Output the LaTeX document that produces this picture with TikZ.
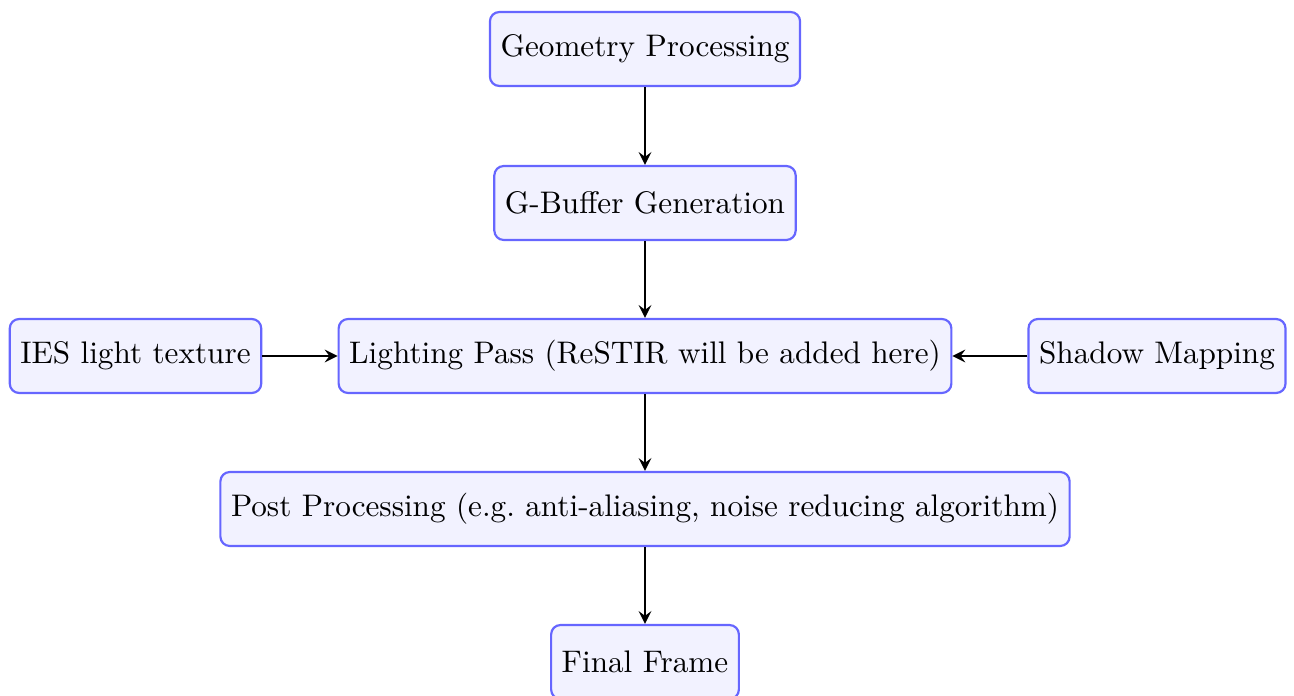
\documentclass[tikz,border=0pt]{standalone}
\usetikzlibrary{arrows}
\begin{document}
\begin{tikzpicture}[x=0.3205pt, y=-0.3205pt,
  stage/.style={draw=blue!60, fill=blue!5, line width=0.7pt, rounded corners=3pt,
    minimum height=23.7pt, inner xsep=3.4pt, font=\normalsize},
  flow/.style={->, >=stealth, thick}]
  \useasboundingbox (0,0) rectangle (1294,696);
  \node[stage] (geo)    at (645,49)   {Geometry Processing};
  \node[stage] (gbuf)   at (645,203)  {G-Buffer Generation};
  \node[stage] (light)  at (645,356)  {Lighting Pass (ReSTIR will be added here)};
  \node[stage] (ies)    at (135.5,356) {IES light texture};
  \node[stage] (shadow) at (1157,356) {Shadow Mapping};
  \node[stage] (post)   at (645,509)  {Post Processing (e.g.\ anti-aliasing, noise reducing algorithm)};
  \node[stage] (final)  at (645,662)  {Final Frame};
  \draw[flow] (geo) -- (gbuf);
  \draw[flow] (gbuf) -- (light);
  \draw[flow] (ies) -- (light);
  \draw[flow] (shadow) -- (light);
  \draw[flow] (light) -- (post);
  \draw[flow] (post) -- (final);
\end{tikzpicture}
\end{document}
